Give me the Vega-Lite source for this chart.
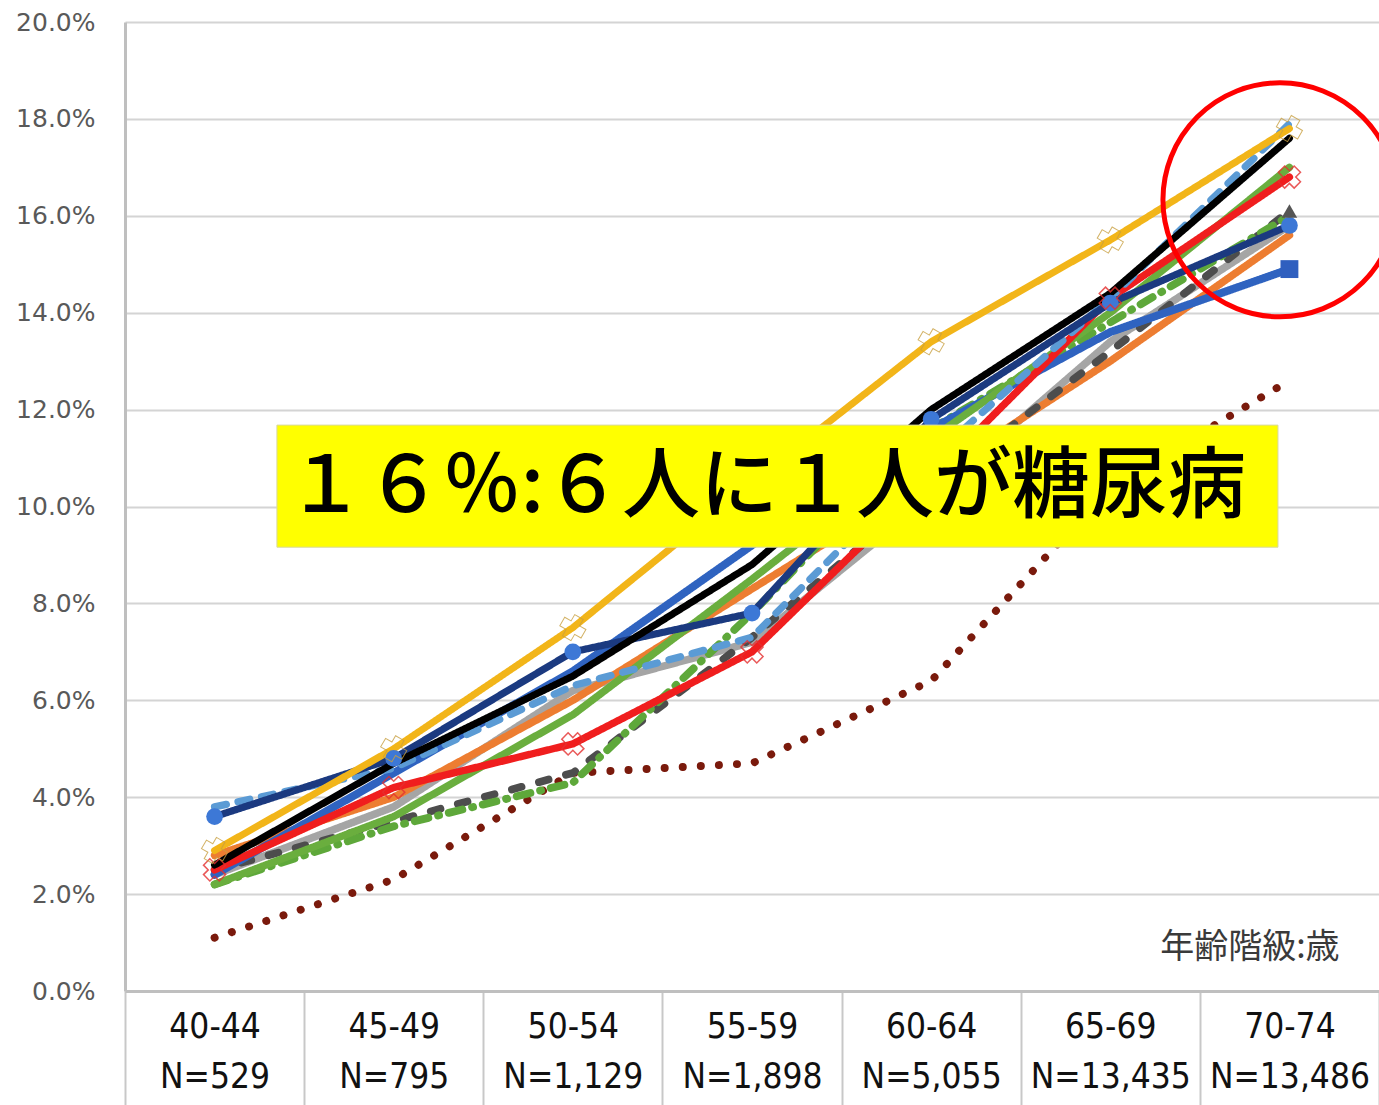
{
  "$schema": "https://vega.github.io/schema/vega-lite/v6.json",
  "width": 1254,
  "height": 969,
  "autosize": {"type": "none"},
  "padding": {"left": 125, "top": 22, "right": 0, "bottom": 114},
  "background": "#ffffff",
  "config": {"view": {"stroke": null}},
  "datasets": {
    "rates": [
      {"s": "系列11", "age": "40-44", "v": 0.011}, {"s": "系列11", "age": "45-49", "v": 0.023}, {"s": "系列11", "age": "50-54", "v": 0.045}, {"s": "系列11", "age": "55-59", "v": 0.047}, {"s": "系列11", "age": "60-64", "v": 0.064}, {"s": "系列11", "age": "65-69", "v": 0.104}, {"s": "系列11", "age": "70-74", "v": 0.126},
      {"s": "系列8", "age": "40-44", "v": 0.024}, {"s": "系列8", "age": "45-49", "v": 0.038}, {"s": "系列8", "age": "50-54", "v": 0.062}, {"s": "系列8", "age": "55-59", "v": 0.072}, {"s": "系列8", "age": "60-64", "v": 0.102}, {"s": "系列8", "age": "65-69", "v": 0.134}, {"s": "系列8", "age": "70-74", "v": 0.158},
      {"s": "系列7", "age": "40-44", "v": 0.028}, {"s": "系列7", "age": "45-49", "v": 0.040}, {"s": "系列7", "age": "50-54", "v": 0.060}, {"s": "系列7", "age": "55-59", "v": 0.083}, {"s": "系列7", "age": "60-64", "v": 0.106}, {"s": "系列7", "age": "65-69", "v": 0.130}, {"s": "系列7", "age": "70-74", "v": 0.156},
      {"s": "系列9", "age": "40-44", "v": 0.025}, {"s": "系列9", "age": "45-49", "v": 0.035}, {"s": "系列9", "age": "50-54", "v": 0.045}, {"s": "系列9", "age": "55-59", "v": 0.073}, {"s": "系列9", "age": "60-64", "v": 0.104}, {"s": "系列9", "age": "65-69", "v": 0.132}, {"s": "系列9", "age": "70-74", "v": 0.161},
      {"s": "系列10", "age": "40-44", "v": 0.022}, {"s": "系列10", "age": "45-49", "v": 0.034}, {"s": "系列10", "age": "50-54", "v": 0.043}, {"s": "系列10", "age": "55-59", "v": 0.078}, {"s": "系列10", "age": "60-64", "v": 0.116}, {"s": "系列10", "age": "65-69", "v": 0.138}, {"s": "系列10", "age": "70-74", "v": 0.160},
      {"s": "系列12", "age": "40-44", "v": 0.024}, {"s": "系列12", "age": "45-49", "v": 0.045}, {"s": "系列12", "age": "50-54", "v": 0.066}, {"s": "系列12", "age": "55-59", "v": 0.092}, {"s": "系列12", "age": "60-64", "v": 0.116}, {"s": "系列12", "age": "65-69", "v": 0.136}, {"s": "系列12", "age": "70-74", "v": 0.149},
      {"s": "系列6", "age": "40-44", "v": 0.022}, {"s": "系列6", "age": "45-49", "v": 0.036}, {"s": "系列6", "age": "50-54", "v": 0.057}, {"s": "系列6", "age": "55-59", "v": 0.085}, {"s": "系列6", "age": "60-64", "v": 0.114}, {"s": "系列6", "age": "65-69", "v": 0.140}, {"s": "系列6", "age": "70-74", "v": 0.170},
      {"s": "系列5", "age": "40-44", "v": 0.025}, {"s": "系列5", "age": "45-49", "v": 0.042}, {"s": "系列5", "age": "50-54", "v": 0.051}, {"s": "系列5", "age": "55-59", "v": 0.070}, {"s": "系列5", "age": "60-64", "v": 0.106}, {"s": "系列5", "age": "65-69", "v": 0.143}, {"s": "系列5", "age": "70-74", "v": 0.168},
      {"s": "系列4", "age": "40-44", "v": 0.038}, {"s": "系列4", "age": "45-49", "v": 0.046}, {"s": "系列4", "age": "50-54", "v": 0.063}, {"s": "系列4", "age": "55-59", "v": 0.073}, {"s": "系列4", "age": "60-64", "v": 0.110}, {"s": "系列4", "age": "65-69", "v": 0.143}, {"s": "系列4", "age": "70-74", "v": 0.179},
      {"s": "系列3", "age": "40-44", "v": 0.036}, {"s": "系列3", "age": "45-49", "v": 0.048}, {"s": "系列3", "age": "50-54", "v": 0.070}, {"s": "系列3", "age": "55-59", "v": 0.078}, {"s": "系列3", "age": "60-64", "v": 0.118}, {"s": "系列3", "age": "65-69", "v": 0.142}, {"s": "系列3", "age": "70-74", "v": 0.158},
      {"s": "系列2", "age": "40-44", "v": 0.026}, {"s": "系列2", "age": "45-49", "v": 0.047}, {"s": "系列2", "age": "50-54", "v": 0.065}, {"s": "系列2", "age": "55-59", "v": 0.088}, {"s": "系列2", "age": "60-64", "v": 0.120}, {"s": "系列2", "age": "65-69", "v": 0.144}, {"s": "系列2", "age": "70-74", "v": 0.176},
      {"s": "系列1", "age": "40-44", "v": 0.029}, {"s": "系列1", "age": "45-49", "v": 0.050}, {"s": "系列1", "age": "50-54", "v": 0.075}, {"s": "系列1", "age": "55-59", "v": 0.105}, {"s": "系列1", "age": "60-64", "v": 0.134}, {"s": "系列1", "age": "65-69", "v": 0.155}, {"s": "系列1", "age": "70-74", "v": 0.178}
    ],
    "box": [{"x": 0.848, "x2": 6.436, "v": 0.0916, "v2": 0.1168, "label": "１６％:６人に１人が糖尿病", "xm": 3.58, "vm": 0.1036}],
    "note": [{"x": 6.78, "v": 0.0089, "label": "年齢階級:歳"}],
    "circle": [{"x": 6.447, "v": 0.1633}]
  },
  "resolve": {"scale": {"x": "independent"}, "axis": {"x": "independent"}},
  "layer": [
    {
      "data": {"name": "rates"},
      "layer": [
        {
          "mark": {"type": "line", "strokeCap": "round", "strokeJoin": "round"},
          "encoding": {
            "x": {
              "field": "age", "type": "nominal", "sort": null,
              "scale": {"type": "band", "paddingInner": 0, "paddingOuter": 0},
              "axis": {
                "title": null, "labelAngle": 0, "grid": false,
                "tickBand": "extent", "ticks": true, "tickSize": 115, "tickColor": "#c8c8c8", "tickWidth": 2,
                "domainColor": "#bfbfbf", "domainWidth": 3,
                "labelFont": "Liberation Sans Narrow, DejaVu Sans Condensed, Liberation Sans", "labelFontSize": 35, "labelColor": "#111111",
                "labelBaseline": "top", "labelLineHeight": 50, "labelPadding": -97,
                "labelExpr": "!datum.label ? '' : [datum.label, datum.label == '40-44' ? 'N=529' : datum.label == '45-49' ? 'N=795' : datum.label == '50-54' ? 'N=1,129' : datum.label == '55-59' ? 'N=1,898' : datum.label == '60-64' ? 'N=5,055' : datum.label == '65-69' ? 'N=13,435' : 'N=13,486']"
              }
            },
            "y": {
              "field": "v", "type": "quantitative",
              "scale": {"domain": [0, 0.2], "nice": false, "zero": true},
              "axis": {
                "title": null, "values": [0, 0.02, 0.04, 0.06, 0.08, 0.1, 0.12, 0.14, 0.16, 0.18, 0.2],
                "format": ".1%", "grid": true, "gridColor": "#d4d4d4", "gridWidth": 2,
                "ticks": false, "domainColor": "#bfbfbf", "domainWidth": 3,
                "labelFont": "DejaVu Sans", "labelFontSize": 25, "labelColor": "#595959", "labelPadding": 30
              }
            },
            "color": {
              "field": "s", "type": "nominal", "legend": null,
              "scale": {
                "domain": ["系列1", "系列2", "系列3", "系列4", "系列5", "系列6", "系列7", "系列8", "系列9", "系列10", "系列11", "系列12"],
                "range": ["#F2B519", "#000000", "#1B3A80", "#5B9BD5", "#F01E1E", "#6AAE3E", "#ED7D31", "#A5A5A5", "#4D4D4D", "#5EA83A", "#7A1A0C", "#2F63C0"]
              }
            },
            "strokeDash": {
              "field": "s", "type": "nominal", "legend": null,
              "scale": {
                "domain": ["系列1", "系列2", "系列3", "系列4", "系列5", "系列6", "系列7", "系列8", "系列9", "系列10", "系列11", "系列12"],
                "range": [[1, 0], [1, 0], [1, 0], [12, 12], [1, 0], [1, 0], [1, 0], [1, 0], [10, 18], [14, 10, 1, 10], [0.1, 18], [1, 0]]
              }
            },
            "strokeWidth": {
              "field": "s", "type": "ordinal", "legend": null,
              "scale": {
                "domain": ["系列1", "系列2", "系列3", "系列4", "系列5", "系列6", "系列7", "系列8", "系列9", "系列10", "系列11", "系列12"],
                "range": [7, 8, 7, 4.5, 5, 7, 6, 6, 8, 3.5, 9, 6]
              }
            }
          }
        },
        {
          "transform": [{"filter": "datum.s == '系列3'"}],
          "mark": {"type": "point", "shape": "circle", "filled": true, "size": 280, "color": "#3D78D6", "opacity": 1},
          "encoding": {
            "x": {"field": "age", "type": "nominal", "sort": null},
            "y": {"field": "v", "type": "quantitative"}
          }
        },
        {
          "transform": [{"filter": "datum.s == '系列12' && datum.age == '70-74'"}],
          "mark": {"type": "point", "shape": "square", "filled": true, "size": 320, "color": "#2F5FBF", "opacity": 1},
          "encoding": {
            "x": {"field": "age", "type": "nominal", "sort": null},
            "y": {"field": "v", "type": "quantitative"}
          }
        },
        {
          "transform": [{"filter": "datum.s == '系列9' && datum.age == '70-74'"}],
          "mark": {"type": "point", "shape": "triangle-up", "filled": true, "size": 240, "color": "#555555", "opacity": 1},
          "encoding": {
            "x": {"field": "age", "type": "nominal", "sort": null},
            "y": {"field": "v", "type": "quantitative"}
          }
        },
        {
          "transform": [{"filter": "datum.s == '系列5'"}],
          "mark": {"type": "point", "shape": "cross", "angle": 45, "filled": false, "size": 500, "color": "#E53030", "strokeWidth": 1.5, "opacity": 0.8},
          "encoding": {
            "x": {"field": "age", "type": "nominal", "sort": null},
            "y": {"field": "v", "type": "quantitative"}
          }
        },
        {
          "transform": [{"filter": "datum.s == '系列1'"}],
          "mark": {"type": "point", "shape": "cross", "angle": 30, "filled": false, "size": 600, "color": "#C9A040", "strokeWidth": 1, "opacity": 0.8},
          "encoding": {
            "x": {"field": "age", "type": "nominal", "sort": null},
            "y": {"field": "v", "type": "quantitative"}
          }
        }
      ]
    },
    {
      "data": {"name": "box"},
      "mark": {"type": "rect", "fill": "#FFFF00", "stroke": "#D8D8A0", "strokeWidth": 1},
      "encoding": {
        "x": {"field": "x", "type": "quantitative", "scale": {"domain": [0, 7], "nice": false, "zero": false}, "axis": null},
        "x2": {"field": "x2"},
        "y": {"field": "v", "type": "quantitative"},
        "y2": {"field": "v2"}
      }
    },
    {
      "data": {"name": "box"},
      "mark": {"type": "text", "font": "Noto Sans CJK JP", "fontSize": 78, "fontWeight": 500, "color": "#000000", "align": "center", "baseline": "middle"},
      "encoding": {
        "x": {"field": "xm", "type": "quantitative", "scale": {"domain": [0, 7], "nice": false, "zero": false}, "axis": null},
        "y": {"field": "vm", "type": "quantitative"},
        "text": {"field": "label"}
      }
    },
    {
      "data": {"name": "note"},
      "mark": {"type": "text", "font": "Noto Sans CJK JP", "fontSize": 34, "color": "#3a3a3a", "align": "right", "baseline": "middle"},
      "encoding": {
        "x": {"field": "x", "type": "quantitative", "scale": {"domain": [0, 7], "nice": false, "zero": false}, "axis": null},
        "y": {"field": "v", "type": "quantitative"},
        "text": {"field": "label"}
      }
    },
    {
      "data": {"name": "circle"},
      "mark": {"type": "point", "shape": "circle", "filled": false, "size": 54756, "stroke": "#FF0000", "strokeWidth": 5, "opacity": 1},
      "encoding": {
        "x": {"field": "x", "type": "quantitative", "scale": {"domain": [0, 7], "nice": false, "zero": false}, "axis": null},
        "y": {"field": "v", "type": "quantitative"}
      }
    }
  ]
}
